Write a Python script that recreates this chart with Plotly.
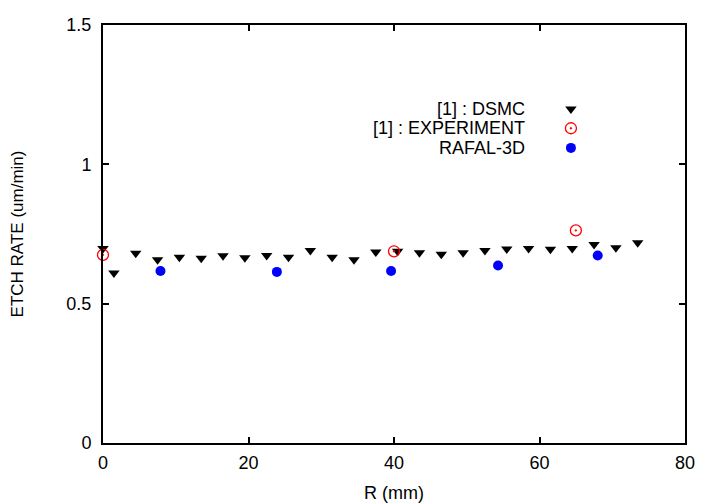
import plotly.graph_objects as go

# ---- data ----
dsmc_r = [0, 1.5, 4.5, 7.5, 10.5, 13.5, 16.5, 19.5, 22.5, 25.5, 28.5, 31.5, 34.5,
          37.5, 40.5, 43.5, 46.5, 49.5, 52.5, 55.5, 58.5, 61.5, 64.5, 67.5, 70.5, 73.5]
dsmc_rate = [0.698, 0.610, 0.681, 0.658, 0.667, 0.663, 0.672, 0.665, 0.673, 0.667,
             0.691, 0.667, 0.658, 0.685, 0.688, 0.683, 0.677, 0.683, 0.691, 0.696,
             0.698, 0.695, 0.698, 0.712, 0.701, 0.719]
exp_r = [0, 40, 65]
exp_rate = [0.675, 0.688, 0.763]
rafal_r = [7.9, 23.9, 39.6, 54.3, 68.0]
rafal_rate = [0.617, 0.614, 0.617, 0.637, 0.673]

x_ticks = [0, 20, 40, 60, 80]
y_ticks = [0, 0.5, 1, 1.5]
y_tick_text = ["0", "0.5", "1", "1.5"]

legend_names = ["[1] : DSMC", "[1] : EXPERIMENT", "RAFAL-3D"]

FONT = "Liberation Sans, Arial, sans-serif"

fig = go.Figure()

dsmc_marker = dict(symbol="triangle-down", size=10, color="black")
exp_marker = dict(symbol="circle-open-dot", size=11, color="red", line=dict(width=1.3, color="red"))
rafal_marker = dict(symbol="circle", size=10, color="blue")

fig.add_trace(go.Scatter(x=dsmc_r, y=dsmc_rate, mode="markers", marker=dsmc_marker,
                         cliponaxis=False, showlegend=False))
fig.add_trace(go.Scatter(x=exp_r, y=exp_rate, mode="markers", marker=exp_marker,
                         cliponaxis=False, showlegend=False))
fig.add_trace(go.Scatter(x=rafal_r, y=rafal_rate, mode="markers", marker=rafal_marker,
                         cliponaxis=False, showlegend=False))

# gnuplot-style key: right-aligned text, symbol to its right
key_x_sym = 0.804
key_x_text = 0.7285
key_ys = [0.799, 0.753, 0.706]
for name, marker, ky in zip(legend_names, [dsmc_marker, exp_marker, rafal_marker], key_ys):
    fig.add_trace(go.Scatter(x=[key_x_sym], y=[ky], mode="markers", marker=marker,
                             xaxis="x2", yaxis="y2", showlegend=False, hoverinfo="skip"))
    fig.add_annotation(x=key_x_text, y=ky, xref="paper", yref="paper", text=name,
                       showarrow=False, xanchor="right", yanchor="middle",
                       font=dict(family=FONT, size=18, color="black"))

axis_common = dict(showgrid=False, zeroline=False, showline=True, linecolor="black",
                   linewidth=2, mirror="ticks", ticks="inside", ticklen=6,
                   tickwidth=2, tickcolor="black", automargin=False,
                   tickfont=dict(family=FONT, size=18, color="black"))

fig.update_layout(
    width=701, height=503,
    margin=dict(l=103, r=16, t=25, b=60),
    paper_bgcolor="white", plot_bgcolor="white",
    xaxis=dict(range=[0, 80], tickvals=x_ticks, ticklabelstandoff=2,
               title=dict(text="R (mm)", font=dict(family=FONT, size=18, color="black"), standoff=16),
               **axis_common),
    yaxis=dict(range=[0, 1.5], tickvals=y_ticks, ticktext=y_tick_text, ticklabelstandoff=6,
               title=dict(text="ETCH RATE (um/min)", font=dict(family=FONT, size=17, color="black"), standoff=38),
               **axis_common),
    xaxis2=dict(overlaying="x", range=[0, 1], visible=False, domain=[0, 1]),
    yaxis2=dict(overlaying="y", range=[0, 1], visible=False, domain=[0, 1]),
    showlegend=False,
)

fig.write_html("out.html", config={"displayModeBar": False},
               post_script="document.body.style.margin='0';")
